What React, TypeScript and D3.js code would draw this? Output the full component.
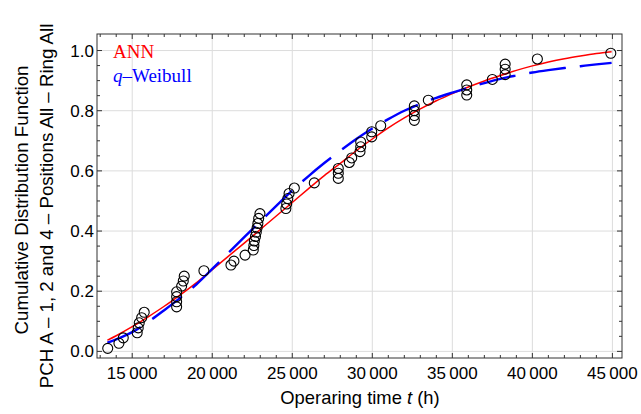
import React from "react";
import * as d3 from "d3";

// Observed failure times (h) and empirical CDF values
const failureTimes = [
  13470, 14170, 14440, 15310, 15375, 15440, 15590, 15750,
  17775, 17775, 17775, 17775, 18088, 18190, 18250, 19480,
  21169, 21356, 22050, 22563, 22600, 22630, 22700, 22750, 22800, 22850, 22900, 22980,
  24600, 24650, 24720, 24800, 25130, 26375,
  27875, 27875, 27875, 28563, 28713, 29231, 29275, 29275, 29963, 29963, 30525,
  32625, 32625, 32625, 32625, 33500, 35900, 35900, 35900, 37500,
  38300, 38300, 38300, 40313, 44900,
];
const cdfValues = [
  0.010, 0.027, 0.045, 0.062, 0.078, 0.095, 0.112, 0.130,
  0.148, 0.165, 0.182, 0.198, 0.217, 0.234, 0.250, 0.268,
  0.287, 0.300, 0.320, 0.337, 0.352, 0.367, 0.382, 0.396, 0.410, 0.425, 0.442, 0.458,
  0.475, 0.490, 0.508, 0.525, 0.543, 0.560,
  0.575, 0.592, 0.608, 0.628, 0.643, 0.664, 0.680, 0.696, 0.713, 0.730, 0.750,
  0.768, 0.784, 0.800, 0.816, 0.835, 0.852, 0.869, 0.886, 0.904,
  0.920, 0.938, 0.955, 0.972, 0.991,
];

// ANN fitted curve
const annTimes = [
  13450, 14000, 15000, 16000, 17000, 18000, 19000, 20000, 21000, 22000, 23000,
  24000, 25000, 26000, 27000, 28000, 29000, 30000, 31000, 32000, 33000, 34000,
  35000, 36000, 37000, 38000, 39000, 40000, 41000, 42000, 43000, 44000, 44950,
];
const annCdf = [
  0.037, 0.052, 0.082, 0.115, 0.150, 0.188, 0.228, 0.272, 0.316, 0.360, 0.405,
  0.450, 0.495, 0.540, 0.584, 0.625, 0.667, 0.706, 0.743, 0.776, 0.806, 0.833,
  0.857, 0.879, 0.899, 0.917, 0.934, 0.949, 0.962, 0.973, 0.982, 0.990, 0.996,
];

// q-Weibull fitted curve
const qwTimes = [
  13450, 14000, 15000, 16000, 17000, 18000, 19000, 20000, 21000, 22000, 23000,
  24000, 25000, 26000, 27000, 28000, 29000, 30000, 31000, 32000, 33000, 34000,
  35000, 36000, 37000, 38000, 39000, 40000, 41000, 42000, 43000, 44000, 44950,
];
const qwCdf = [
  0.029, 0.040, 0.064, 0.098, 0.137, 0.178, 0.222, 0.274, 0.327, 0.380, 0.432,
  0.484, 0.535, 0.582, 0.626, 0.667, 0.706, 0.741, 0.772, 0.800, 0.823, 0.843,
  0.860, 0.876, 0.892, 0.906, 0.917, 0.927, 0.935, 0.942, 0.948, 0.954, 0.959,
];

const xTicks = [15000, 20000, 25000, 30000, 35000, 40000, 45000];
const yTicks = [0, 0.2, 0.4, 0.6, 0.8, 1.0];
const xTickLabels = ["15\u2009000", "20\u2009000", "25\u2009000", "30\u2009000", "35\u2009000", "40\u2009000", "45\u2009000"];
const yTickLabels = ["0.0", "0.2", "0.4", "0.6", "0.8", "1.0"];

export default function App() {
  const W = 641;
  const H = 414;
  const left = 97, right = 622, top = 34, bottom = 358;
  const x = d3.scaleLinear().domain([12800, 45600]).range([left, right]);
  const y = d3.scaleLinear().domain([-0.022, 1.055]).range([bottom, top]);

  const xMinor = d3.range(13000, 45601, 1000).filter((v) => v % 5000 !== 0);
  const yMinor = d3.range(0, 21).map((i) => i * 0.05).filter((v) => y(v) >= top && Math.round(v * 100) % 20 !== 0);

  const annLine = d3
    .line<number>()
    .x((d, i) => x(annTimes[i]))
    .y((d) => y(d))
    .curve(d3.curveMonotoneX);
  const qwLine = d3
    .line<number>()
    .x((d, i) => x(qwTimes[i]))
    .y((d) => y(d))
    .curve(d3.curveMonotoneX);

  const sans = "'Liberation Sans', Arial, sans-serif";
  const serif = "'Liberation Serif', 'Times New Roman', serif";
  const frameColor = "#333";
  const majorLen = 5;
  const minorLen = 3;

  return (
    <svg
      width={W}
      height={H}
      viewBox={`0 0 ${W} ${H}`}
      style={{ position: "absolute", left: 0, top: 0, background: "#fff" }}
    >
      {/* grid */}
      <g stroke="#dcdcdc" strokeWidth={1}>
        {xTicks.map((t) => (
          <line key={"gx" + t} x1={x(t)} x2={x(t)} y1={top} y2={bottom} />
        ))}
        {yTicks.map((t) => (
          <line key={"gy" + t} x1={left} x2={right} y1={y(t)} y2={y(t)} />
        ))}
      </g>

      {/* curves */}
      <path d={annLine(annCdf) || ""} fill="none" stroke="#ff0000" strokeWidth={1.5} />
      <path
        d={qwLine(qwCdf) || ""}
        fill="none"
        stroke="#0000ff"
        strokeWidth={2.4}
        strokeDasharray="37,14"
      />

      {/* data points */}
      <g fill="none" stroke="#000" strokeWidth={1.1}>
        {failureTimes.map((t, i) => (
          <circle key={"p" + i} cx={x(t)} cy={y(cdfValues[i])} r={5} />
        ))}
      </g>

      {/* frame */}
      <rect x={left} y={top} width={right - left} height={bottom - top} fill="none" stroke={frameColor} strokeWidth={1} />

      {/* ticks */}
      <g stroke={frameColor} strokeWidth={1}>
        {xTicks.map((t) => (
          <g key={"xt" + t}>
            <line x1={x(t)} x2={x(t)} y1={bottom} y2={bottom - majorLen} />
            <line x1={x(t)} x2={x(t)} y1={top} y2={top + majorLen} />
          </g>
        ))}
        {xMinor.map((t) => (
          <g key={"xm" + t}>
            <line x1={x(t)} x2={x(t)} y1={bottom} y2={bottom - minorLen} />
            <line x1={x(t)} x2={x(t)} y1={top} y2={top + minorLen} />
          </g>
        ))}
        {yTicks.map((t) => (
          <g key={"yt" + t}>
            <line x1={left} x2={left + majorLen} y1={y(t)} y2={y(t)} />
            <line x1={right} x2={right - majorLen} y1={y(t)} y2={y(t)} />
          </g>
        ))}
        {yMinor.map((t) => (
          <g key={"ym" + t}>
            <line x1={left} x2={left + minorLen} y1={y(t)} y2={y(t)} />
            <line x1={right} x2={right - minorLen} y1={y(t)} y2={y(t)} />
          </g>
        ))}
      </g>

      {/* tick labels */}
      <g fontFamily={sans} fontSize={17} fill="#000">
        {xTicks.map((t, i) => (
          <text key={"xl" + t} x={x(t)} y={379} textAnchor="middle">
            {xTickLabels[i]}
          </text>
        ))}
        {yTicks.map((t, i) => (
          <text key={"yl" + t} x={94} y={y(t) + 6} textAnchor="end">
            {yTickLabels[i]}
          </text>
        ))}
      </g>

      {/* axis labels */}
      <text x={360} y={404} textAnchor="middle" fontFamily={sans} fontSize={18.4} fill="#000">
        Operaring time <tspan fontStyle="italic">t</tspan> (h)
      </text>
      <g fontFamily={sans} fontSize={18.7} fill="#000">
        <text transform="translate(27.5,200) rotate(-90)" textAnchor="middle">
          Cumulative Distribution Function
        </text>
        <text transform="translate(52.5,206) rotate(-90)" textAnchor="middle">
          PCH A – 1, 2 and 4 – Positions All – Ring All
        </text>
      </g>

      {/* legend */}
      <text x={113} y={58} fontFamily={serif} fontSize={19} fill="#ff0000">
        ANN
      </text>
      <text x={113} y={82} fontFamily={serif} fontSize={19} fill="#0000ff">
        <tspan fontStyle="italic">q</tspan>–Weibull
      </text>
    </svg>
  );
}
